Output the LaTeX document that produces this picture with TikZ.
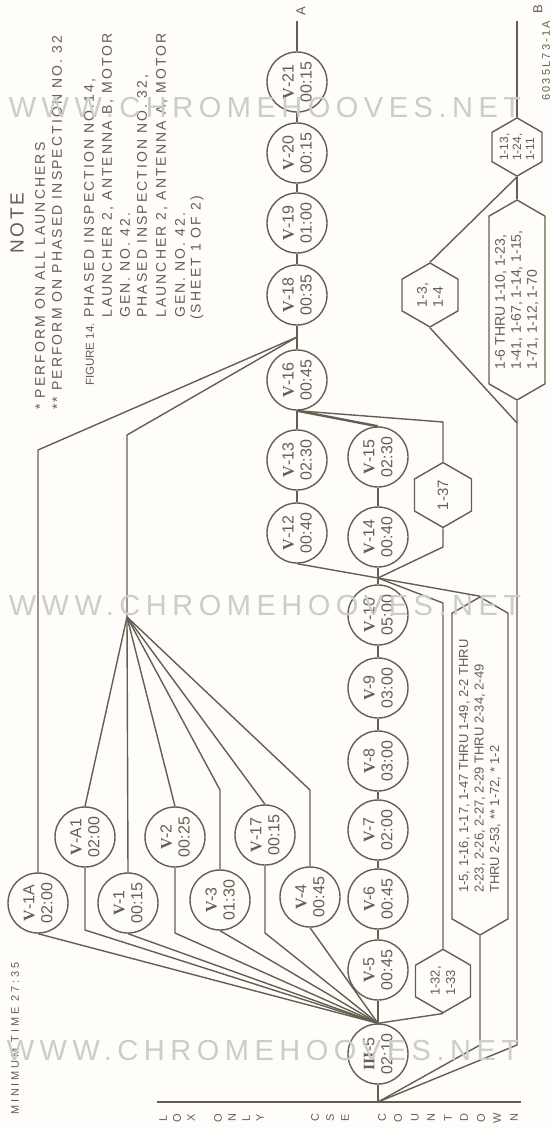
\documentclass[tikz,border=0pt]{standalone}
\usepackage{fontspec}
\setmainfont{Liberation Sans}
\newfontfamily\letterfont{Liberation Sans}[LetterSpace=15]
\newfontfamily\romanfont{Liberation Serif}
\usetikzlibrary{positioning,shapes.symbols}

\definecolor{ink}{RGB}{102,94,80}
\definecolor{paper}{RGB}{254,253,250}
\definecolor{stamp}{RGB}{204,204,204}

% step label: roman numeral, number, time
\newcommand{\insp}[3]{{\romanfont\bfseries #1}-#2\\#3}

\begin{document}
\begin{tikzpicture}[
  x=1pt, y=-1pt,
  task/.style={circle, draw=ink, line width=1.4pt, minimum size=60pt, inner sep=0pt,
               rotate=90, align=center, text=ink, fill=paper,
               font=\fontsize{16}{18}\selectfont},
  hexa/.style={shape=signal, signal to=east and west, signal pointer angle=120,
               draw=ink, line width=1.4pt, rotate=90, align=left, inner sep=1pt,
               text=ink, fill=paper, font=\fontsize{13}{15.5}\selectfont},
  link/.style={draw=ink, line width=1.4pt, line join=round},
  heavy/.style={draw=ink, line width=2.4pt},
  note/.style={rotate=90, anchor=west, inner sep=0pt, text=ink,
               font=\letterfont\fontsize{14}{16}\selectfont},
  axis/.style={rotate=90, inner sep=0pt, text=ink, font=\fontsize{11}{11}\selectfont},
  wmark/.style={text=stamp, inner sep=0pt,
                font=\fontsize{29}{29}\selectfont\addfontfeatures{LetterSpace=19}},
]

\fill[paper] (0,0) rectangle (551,1128);
\useasboundingbox (0,0) rectangle (551,1128);

% ---------------- notes ----------------
\node[note, anchor=center, font=\letterfont\fontsize{19}{19}\selectfont] (notehead) at (17,223) {NOTE};
\node[note] (note1) at (40,410) {* PERFORM ON ALL LAUNCHERS};
\node[note] (note2) at (57,410) {** PERFORM ON PHASED INSPECTION NO. 32};
\node[note, font=\fontsize{11.5}{13}\selectfont] (fig) at (90,386) {FIGURE 14.};
\node[note] (cap1) at (90,318) {PHASED INSPECTION NO.14,};
\node[note] (cap2) at (108,318) {LAUNCHER 2, ANTENNA B, MOTOR};
\node[note] (cap3) at (125,318) {GEN. NO. 42.};
\node[note] (cap4) at (143,318) {PHASED INSPECTION NO. 32,};
\node[note] (cap5) at (162,318) {LAUNCHER 2, ANTENNA A, MOTOR};
\node[note] (cap6) at (180,318) {GEN. NO. 42.};
\node[note] (cap7) at (197,320) {(SHEET 1 OF 2)};
\node[note, font=\letterfont\fontsize{11}{12}\selectfont\addfontfeatures{LetterSpace=26}]
  (mintime) at (15,1115) {MINIMUM TIME 27:35};
\node[note, font=\letterfont\fontsize{11}{12}\selectfont\addfontfeatures{LetterSpace=20}]
  (dwg) at (546,101) {6035L73-1A};

% ---------------- count axis ----------------
\coordinate (base0) at (157,1102);
\coordinate (base1) at (521,1102);
\coordinate (start) at (378,1102);
\draw[link] (base0) -- (base1);
\foreach \xx/\ch in {163/L,177/O,191/X,218/O,232/N,246/L,260/Y,315/C,330/S,345/E,
                     382/C,398/O,415/U,431/N,448/T,464/D,481/O,497/W,514/N}
  \node[axis] (ax\xx) at (\xx,1118) {\ch};

% ---------------- main chain ----------------
\node[task] (iii5) at (378,1054) {\insp{III}{5}{02:10}};
\node[task] (v5)  at (378,970) {\insp{V}{5}{00:45}};
\node[task] (v6)  at (378,899) {\insp{V}{6}{00:45}};
\node[task] (v7)  at (378,830) {\insp{V}{7}{02:00}};
\node[task] (v8)  at (378,761) {\insp{V}{8}{03:00}};
\node[task] (v9)  at (378,688) {\insp{V}{9}{03:00}};
\node[task] (v10) at (378,615) {\insp{V}{10}{05:00}};
\coordinate (j2) at (378,578);

\node[task] (v12) at (297,533) {\insp{V}{12}{00:40}};
\node[task] (v13) at (297,460) {\insp{V}{13}{02:30}};
\node[task] (v14) at (378,537) {\insp{V}{14}{00:40}};
\node[task] (v15) at (378,457) {\insp{V}{15}{02:30}};
\node[task] (v16) at (297,380) {\insp{V}{16}{00:45}};
\coordinate (j4) at (297,337);
\node[task] (v18) at (297,295) {\insp{V}{18}{00:35}};
\node[task] (v19) at (297,223) {\insp{V}{19}{01:00}};
\node[task] (v20) at (297,153) {\insp{V}{20}{00:15}};
\node[task] (v21) at (297,82)  {\insp{V}{21}{00:15}};
\coordinate (endA) at (297,21);
\node[axis, font=\fontsize{13}{13}\selectfont] (lblA) at (301,11) {A};

% ---------------- left branch ----------------
\node[task] (v1a) at (38,903)  {\insp{V}{1A}{02:00}};
\node[task] (va1) at (85,837)  {\insp{V}{A1}{02:00}};
\node[task] (v1)  at (128,903) {\insp{V}{1}{00:15}};
\node[task] (v2)  at (175,837) {\insp{V}{2}{00:25}};
\node[task] (v3)  at (220,900) {\insp{V}{3}{01:30}};
\node[task] (v17) at (265,835) {\insp{V}{17}{00:15}};
\node[task] (v4)  at (310,897) {\insp{V}{4}{00:45}};
\coordinate (fan2) at (127,617);

% ---------------- hexagon checks ----------------
\node[hexa, minimum width=63pt, minimum height=55pt] (h1) at (443,981) {1-32,\\1-33};
\node[hexa, minimum width=338pt, minimum height=56pt] (h2) at (480,766)
  {1-5, 1-16, 1-17, 1-47 THRU 1-49, 2-2 THRU\\2-23, 2-26, 2-27, 2-29 THRU 2-34, 2-49\\THRU 2-53, ** 1-72, * 1-2};
\node[hexa, minimum width=200pt, minimum height=56pt, font=\fontsize{14}{16}\selectfont] (h3) at (517,300)
  {1-6 THRU 1-10, 1-23,\\1-41, 1-67, 1-14, 1-15,\\1-71, 1-12, 1-70};
\node[hexa, minimum width=64pt, minimum height=56pt, font=\fontsize{14}{16}\selectfont] (h4) at (430,295) {1-3,\\1-4};
\node[hexa, minimum width=58pt, minimum height=50pt, font=\fontsize{12}{13}\selectfont] (h5) at (517,147) {1-13,\\1-24,\\1-11};
\node[hexa, minimum width=64pt, minimum height=57pt, font=\fontsize{15}{17}\selectfont] (h6) at (443,495) {1-37};
\coordinate (endB) at (517,21);
\node[axis, font=\fontsize{13}{13}\selectfont] (lblB) at (538,9) {B};

% ---------------- bends ----------------
\coordinate (kA) at (38,450);
\coordinate (kB) at (127,435);
\coordinate (kC) at (220,790);
\coordinate (kD) at (310,790);
\coordinate (kE) at (85,930);
\coordinate (kF) at (175,933);
\coordinate (kG) at (265,933);
\coordinate (kH) at (443,603);
\coordinate (kI) at (443,422);
\coordinate (kJ) at (443,547);
\coordinate (kK) at (480,1045);
\coordinate (kL) at (517,1045);
\coordinate (kM) at (517,423);

% ---------------- connectors ----------------
\draw[link] (start) -- (iii5.west);
\draw[link] (iii5.east) -- (v5.west);
\foreach \a/\b in {v5/v6,v6/v7,v7/v8,v8/v9,v9/v10}
  \draw[link] (\a.east) -- (\b.west);
\draw[link] (v10.east) -- (j2);
\draw[link] (iii5.east) -- (h1.west);
\draw[link] (h1.east) -- (kH) -- (j2);
\draw[link] (start) -- (kK) -- (h2.west);
\draw[link] (h2.east) -- (j2);
\draw[link] (start) -- (kL) -- (kM) -- (h3.west);
\draw[link] (kM) -- (h4.west);
\draw[link] (h3.east) -- (h5.west);
\draw[link] (h4.east) -- (h5.west);
\draw[link] (h5.east) -- (endB);
\draw[link] (j2) -- (v14.west);
\draw[link] (v14.east) -- (v15.west);
\draw[link] (j2) -- (v12.west);
\draw[link] (v12.east) -- (v13.west);
\draw[link] (v13.east) -- (v16.west);
\draw[heavy] (v15.east) -- (v16.west);
\draw[link] (j2) -- (kJ) -- (h6.west);
\draw[link] (h6.east) -- (kI) -- (v16.west);
\draw[link] (v16.east) -- (j4) -- (v18.west);
\foreach \a/\b in {v18/v19,v19/v20,v20/v21}
  \draw[link] (\a.east) -- (\b.west);
\draw[link] (v21.east) -- (endA);

% left branch into the two fans
\draw[link] (v1a.east) -- (kA) -- (j4);
\draw[link] (fan2) -- (kB) -- (j4);
\foreach \n in {va1,v1,v2,v17}
  \draw[link] (\n.east) -- (fan2);
\draw[link] (v3.east) -- (kC) -- (fan2);
\draw[link] (v4.east) -- (kD) -- (fan2);
\foreach \n in {v1a,v1,v3,v4}
  \draw[link] (\n.west) -- (iii5.east);
\draw[link] (va1.west) -- (kE) -- (iii5.east);
\draw[link] (v2.west) -- (kF) -- (iii5.east);
\draw[link] (v17.west) -- (kG) -- (iii5.east);

% ---------------- watermark ----------------
\node[wmark] (wm1) at (265,108) {WWW.CHROMEHOOVES.NET};
\node[wmark] (wm2) at (265,606) {WWW.CHROMEHOOVES.NET};
\node[wmark] (wm3) at (263,1051) {WWW.CHROMEHOOVES.NET};

\end{tikzpicture}
\end{document}
